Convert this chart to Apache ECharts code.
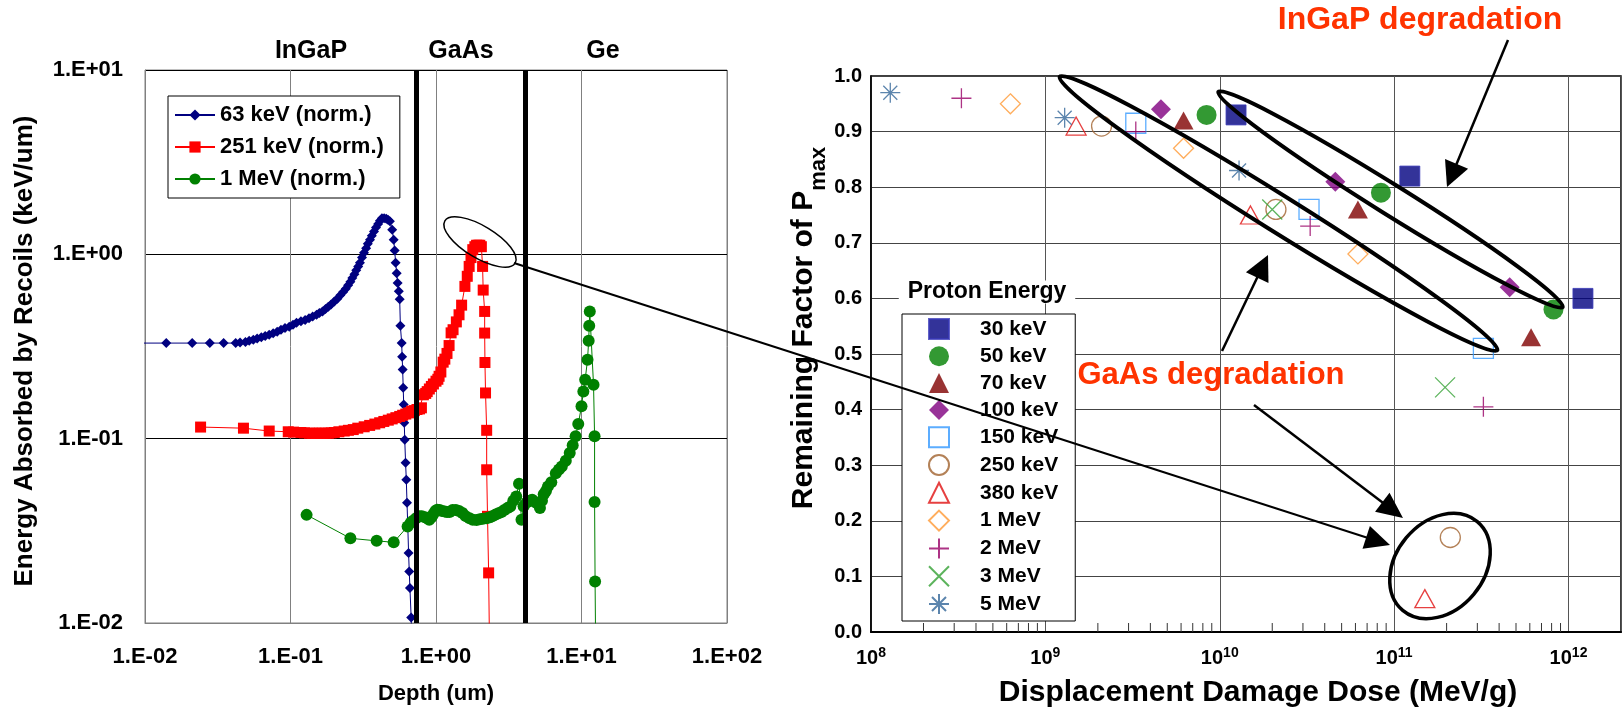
<!DOCTYPE html>
<html><head><meta charset="utf-8">
<script src="https://cdn.jsdelivr.net/npm/echarts@6/dist/echarts.min.js"></script>
<style>html,body{margin:0;padding:0;background:#fff}#c{width:1624px;height:710px}</style>
</head><body><div id="c"></div>
<script>
const F = '"Liberation Sans", Arial, Helvetica, sans-serif';

// ---------- Left chart: energy absorbed by recoils vs depth ----------
const legendLeft = ['63 keV (norm.)', '251 keV (norm.)', '1 MeV (norm.)'];
const recoil63keV = [[0.009,0.33],[0.014,0.33],[0.0211,0.33],[0.0279,0.33],[0.0347,0.33],[0.042,0.33],[0.045,0.332],[0.049,0.335],[0.052,0.34],[0.0555,0.344],[0.059,0.35],[0.063,0.355],[0.067,0.36],[0.0714,0.366],[0.076,0.373],[0.081,0.38],[0.086,0.39],[0.0917,0.398],[0.098,0.405],[0.104,0.415],[0.11,0.425],[0.118,0.433],[0.126,0.44],[0.134,0.45],[0.142,0.46],[0.151,0.47],[0.158,0.48],[0.166,0.49],[0.174,0.505],[0.182,0.52],[0.19,0.535],[0.2,0.555],[0.21,0.575],[0.22,0.60],[0.23,0.625],[0.24,0.65],[0.249,0.68],[0.258,0.71],[0.266,0.745],[0.275,0.78],[0.283,0.82],[0.292,0.86],[0.3,0.9],[0.31,0.96],[0.32,1.02],[0.331,1.08],[0.34,1.14],[0.352,1.2],[0.362,1.26],[0.375,1.33],[0.387,1.4],[0.4,1.46],[0.412,1.52],[0.425,1.57],[0.44,1.57],[0.455,1.56],[0.468,1.54],[0.482,1.51],[0.5,1.36],[0.512,1.2],[0.52,1.05],[0.528,0.9],[0.537,0.79],[0.545,0.7],[0.555,0.63],[0.563,0.57],[0.569,0.41],[0.581,0.33],[0.585,0.278],[0.59,0.237],[0.595,0.189],[0.6,0.153],[0.605,0.122],[0.61,0.0986],[0.618,0.074],[0.625,0.0598],[0.632,0.0449],[0.64,0.0333],[0.648,0.024],[0.655,0.019],[0.662,0.0155],[0.675,0.0107],[0.68,0.008]];
const recoil251keV = [[0.0241,0.1156],[0.0475,0.114],[0.0714,0.110],[0.0965,0.109],[0.105,0.1085],[0.118,0.108],[0.125,0.1075],[0.135,0.107],[0.142,0.107],[0.15,0.107],[0.158,0.107],[0.165,0.107],[0.173,0.107],[0.182,0.107],[0.19,0.1075],[0.2,0.108],[0.215,0.109],[0.234,0.11],[0.25,0.111],[0.27,0.112],[0.29,0.114],[0.321,0.116],[0.35,0.118],[0.38,0.12],[0.41,0.122],[0.438,0.124],[0.47,0.126],[0.5,0.128],[0.53,0.13],[0.563,0.132],[0.59,0.134],[0.62,0.136],[0.65,0.138],[0.679,0.141],[0.71,0.142],[0.74,0.144],[0.77,0.145],[0.794,0.147],[0.819,0.173],[0.85,0.176],[0.87,0.18],[0.9,0.186],[0.929,0.192],[0.96,0.198],[1.0,0.205],[1.03,0.21],[1.05,0.218],[1.08,0.23],[1.12,0.26],[1.15,0.27],[1.19,0.29],[1.23,0.32],[1.27,0.375],[1.31,0.39],[1.38,0.43],[1.44,0.47],[1.5,0.53],[1.58,0.67],[1.64,0.76],[1.69,0.86],[1.74,0.96],[1.79,1.06],[1.85,1.1],[1.9,1.12],[1.95,1.12],[2.0,1.12],[2.05,1.1],[2.09,0.86],[2.11,0.64],[2.16,0.49],[2.16,0.374],[2.17,0.259],[2.19,0.177],[2.23,0.111],[2.23,0.0678],[2.26,0.0379],[2.3,0.0187],[2.33,0.008]];
const recoil1MeV = [[0.129,0.0386],[0.258,0.0288],[0.391,0.0279],[0.512,0.0274],[0.638,0.0334],[0.67,0.035],[0.7,0.036],[0.73,0.037],[0.769,0.0379],[0.8,0.038],[0.84,0.0375],[0.87,0.037],[0.899,0.0363],[0.93,0.0375],[0.96,0.039],[0.99,0.0405],[1.02,0.0411],[1.06,0.041],[1.1,0.0405],[1.15,0.0403],[1.19,0.040],[1.24,0.04],[1.3,0.041],[1.37,0.041],[1.44,0.0405],[1.52,0.0395],[1.6,0.038],[1.7,0.037],[1.79,0.0363],[1.9,0.0362],[2.0,0.0365],[2.1,0.0368],[2.23,0.037],[2.35,0.0375],[2.45,0.038],[2.57,0.0388],[2.69,0.0394],[2.82,0.040],[2.95,0.041],[3.1,0.042],[3.24,0.0429],[3.4,0.046],[3.56,0.0486],[3.72,0.0569],[3.87,0.0363],[4.0,0.043],[4.2,0.045],[4.4,0.046],[4.58,0.0466],[4.85,0.045],[5.18,0.042],[5.35,0.046],[5.5,0.05],[5.7,0.052],[5.88,0.0551],[6.2,0.058],[6.66,0.065],[7.0,0.068],[7.32,0.0707],[7.8,0.076],[8.3,0.0835],[8.7,0.092],[9.11,0.103],[9.5,0.12],[10.0,0.150],[10.3,0.18],[10.6,0.209],[11.0,0.268],[11.2,0.34],[11.3,0.41],[11.4,0.49],[12.1,0.196],[12.3,0.103],[12.3,0.0453],[12.4,0.0168],[12.5,0.008]];
const layerBoundaries = [0.73, 4.1];
const layerNames = ['InGaP', 'GaAs', 'Ge'];

// ---------- Right chart: remaining factor of Pmax vs displacement damage dose ----------
const protonEnergies = ['30 keV','50 keV','70 keV','100 keV','150 keV','250 keV','380 keV','1 MeV','2 MeV','3 MeV','5 MeV'];
const dose30keV  = [1.24e10, 1.23e11, 1.21e12];  const rf30keV  = [0.93, 0.82, 0.60];
const dose50keV  = [8.4e9, 8.4e10, 8.2e11];      const rf50keV  = [0.93, 0.79, 0.58];
const dose70keV  = [6.2e9, 6.2e10, 6.1e11];      const rf70keV  = [0.92, 0.76, 0.53];
const dose100keV = [4.6e9, 4.6e10, 4.6e11];      const rf100keV = [0.94, 0.81, 0.62];
const dose150keV = [3.3e9, 3.25e10, 3.25e11];    const rf150keV = [0.915, 0.76, 0.51];
const dose250keV = [2.1e9, 2.1e10, 2.1e11];      const rf250keV = [0.91, 0.76, 0.17];
const dose380keV = [1.5e9, 1.5e10, 1.5e11];      const rf380keV = [0.91, 0.75, 0.06];
const dose1MeV   = [6.3e8, 6.2e9, 6.2e10];       const rf1MeV   = [0.95, 0.87, 0.68];
const dose2MeV   = [3.3e8, 3.3e9, 3.3e10, 3.25e11]; const rf2MeV = [0.96, 0.90, 0.73, 0.405];
const dose3MeV   = [2.0e10, 1.96e11];            const rf3MeV   = [0.76, 0.44];
const dose5MeV   = [1.29e8, 1.29e9, 1.29e10];    const rf5MeV   = [0.97, 0.925, 0.83];
const doseList = [dose30keV,dose50keV,dose70keV,dose100keV,dose150keV,dose250keV,dose380keV,dose1MeV,dose2MeV,dose3MeV,dose5MeV];
const rfList   = [rf30keV,rf50keV,rf70keV,rf100keV,rf150keV,rf250keV,rf380keV,rf1MeV,rf2MeV,rf3MeV,rf5MeV];

// marker styles
const PLUS = 'path://M10,0L10,20M0,10L20,10';
const CROSS = 'path://M0,0L20,20M20,0L0,20';
const STAR = 'path://M10,0L10,20M0,10L20,10M3,3L17,17M17,3L3,17';
const mShape = ['rect','circle','triangle','diamond','rect','circle','triangle','diamond',PLUS,CROSS,STAR];
const mColor = ['#000080','#008000','#800000','#800080','#3399ff','#a0622d','#e01010','#ff9933','#990066','#33a033','#336699'];
const mFilled = [true,true,true,true,false,false,false,false,false,false,false];

const chart = echarts.init(document.getElementById('c'));

function expLabel(v){
  const e = Math.round(Math.log10(v));
  return '1.E' + (e < 0 ? '-' : '+') + String(Math.abs(e)).padStart(2,'0');
}
const lblL = {fontFamily:F, fontWeight:'bold', fontSize:22, color:'#000'};

const series = [
  {name:legendLeft[0], type:'line', xAxisIndex:0, yAxisIndex:0, data:recoil63keV, symbol:'diamond', symbolSize:10,
   itemStyle:{color:'#000080'}, lineStyle:{color:'#000080', width:1}},
  {name:legendLeft[1], type:'line', xAxisIndex:0, yAxisIndex:0, data:recoil251keV, symbol:'rect', symbolSize:11,
   itemStyle:{color:'#ff0000'}, lineStyle:{color:'#ff0000', width:1}},
  {name:legendLeft[2], type:'line', xAxisIndex:0, yAxisIndex:0, data:recoil1MeV, symbol:'circle', symbolSize:12,
   itemStyle:{color:'#008000'}, lineStyle:{color:'#008000', width:1},
   markLine:{silent:true, symbol:'none', label:{show:false}, lineStyle:{color:'#000', width:5, type:'solid'},
     data: layerBoundaries.map(b => ({xAxis:b}))}}
];
protonEnergies.forEach((name, i) => {
  const filled = mFilled[i];
  series.push({
    name, type:'scatter', xAxisIndex:1, yAxisIndex:1,
    data: doseList[i].map((d, j) => [d, rfList[i][j]]),
    symbol: mShape[i], symbolSize: mShape[i] === 'triangle' ? [20,18] : 20,
    itemStyle: filled ? {color:mColor[i], borderColor: i===0 ? '#3a3ab8' : mColor[i], borderWidth: i===0 ? 1 : 0}
                      : {color:'rgba(255,255,255,0)', borderColor:mColor[i], borderWidth:1.3},
    emphasis:{disabled:true}
  });
});

const option = {
  animation:false,
  backgroundColor:'#fff',
  grid:[
    {left:145, top:70, width:582, height:553, show:true, borderColor:'#808080', borderWidth:1},
    {left:871, top:76, width:752, height:556, show:true, borderColor:'#000', borderWidth:1.5}
  ],
  xAxis:[
    {type:'log', gridIndex:0, min:0.01, max:100, logBase:10,
     axisLine:{lineStyle:{color:'#808080'}}, axisTick:{show:false},
     splitLine:{show:true, lineStyle:{color:'#808080', width:1}},
     axisLabel:Object.assign({margin:23, formatter:expLabel}, lblL)},
    {type:'log', gridIndex:1, min:1e8, max:2e12, logBase:10,
     axisLine:{lineStyle:{color:'#000', width:2}}, axisTick:{show:false},
     splitLine:{show:true, lineStyle:{color:'#555', width:1}},
     axisLabel:{margin:14, color:'#000',
       formatter:(v)=>{const l=Math.log10(v), e=Math.round(l); if(Math.abs(l-e)>1e-6) return ''; return '{b|10}{s|'+e+'}';},
       rich:{b:{fontFamily:F, fontWeight:'bold', fontSize:20, color:'#000', lineHeight:22, verticalAlign:'bottom'},
             s:{fontFamily:F, fontWeight:'bold', fontSize:14, color:'#000', lineHeight:14, verticalAlign:'top'}}}}
  ],
  yAxis:[
    {type:'log', gridIndex:0, min:0.01, max:10, logBase:10,
     axisLine:{lineStyle:{color:'#808080'}}, axisTick:{show:false},
     splitLine:{show:true, lineStyle:{color:'#000', width:1}},
     axisLabel:Object.assign({margin:22, formatter:expLabel}, lblL)},
    {type:'value', gridIndex:1, min:0, max:1, interval:0.1,
     axisLine:{show:true, lineStyle:{color:'#000', width:1.5}}, axisTick:{show:false},
     splitLine:{show:true, lineStyle:{color:'#444', width:1}},
     axisLabel:{margin:9, formatter:(v)=>v.toFixed(1), fontFamily:F, fontWeight:'bold', fontSize:20, color:'#000', padding:[10,0,0,0]}}
  ],
  legend:[
    {data:legendLeft, orient:'vertical', left:168, top:96, itemWidth:40, itemHeight:14, itemGap:10,
     padding:[8,16,8,6], borderColor:'#000', borderWidth:1, backgroundColor:'#fff', selectedMode:false,
     textStyle:{fontFamily:F, fontWeight:'bold', fontSize:22, color:'#000', lineHeight:22}},
    {data:protonEnergies, orient:'vertical', left:902, top:314, itemWidth:20, itemHeight:20, itemGap:5.8,
     padding:[4,17,6,26], borderColor:'#000', borderWidth:1, backgroundColor:'#fff', selectedMode:false,
     textStyle:{fontFamily:F, fontWeight:'bold', fontSize:21, color:'#000', lineHeight:20, padding:[0,0,0,26]}}
  ],
  series
};
chart.setOption(option);

// ---------- annotations (decorations) ----------
function txt(x, y, text, size, color, extra){
  return {type:'text', x, y, z:100, style:Object.assign({text, font:'bold '+size+'px '+F, fill:color||'#000', align:'center', verticalAlign:'middle'}, (extra||{}))};
}
// angDeg > 0 : major axis tilted down to the right
function ell(cx, cy, rx, ry, angDeg, w){
  return {type:'ellipse', x:cx, y:cy, rotation:-angDeg*Math.PI/180, z:100, shape:{cx:0, cy:0, rx, ry}, style:{fill:'none', stroke:'#000', lineWidth:w}};
}
function arrow(x0, y0, x1, y1, w, hl, hw){
  const dx=x1-x0, dy=y1-y0, L=Math.hypot(dx,dy), ux=dx/L, uy=dy/L;
  const bx=x1-ux*hl, by=y1-uy*hl, px=-uy, py=ux;
  return [
    {type:'line', z:100, shape:{x1:x0, y1:y0, x2:bx+ux*2, y2:by+uy*2}, style:{stroke:'#000', lineWidth:w}},
    {type:'polygon', z:100, shape:{points:[[x1,y1],[bx+px*hw/2, by+py*hw/2],[bx-px*hw/2, by-py*hw/2]]}, style:{fill:'#000'}}
  ];
}
const g = [];
[[311,51],[461,51],[603,51]].forEach((p,i)=>g.push(txt(p[0], p[1], layerNames[i], 25)));
const yt = txt(25, 351, 'Energy Absorbed by Recoils (keV/um)', 26);
yt.rotation = Math.PI/2;
g.push(yt);
g.push(txt(436, 694, 'Depth (um)', 22));
g.push(txt(1258, 693, 'Displacement Damage Dose (MeV/g)', 30));
g.push({type:'text', x:804, y:328, rotation:Math.PI/2, z:100,
  style:{text:'{a|Remaining Factor of P}{b|max}', align:'center', verticalAlign:'middle',
    rich:{a:{font:'bold 30px '+F, fill:'#000', lineHeight:30, verticalAlign:'top'},
          b:{font:'bold 22px '+F, fill:'#000', lineHeight:22, verticalAlign:'top', padding:[19,0,0,0]}}}});
g.push(txt(987, 292, 'Proton Energy', 23, '#000', {backgroundColor:'#fff', padding:[0,9]}));
g.push(txt(1420, 20, 'InGaP degradation', 32, '#ff3300'));
g.push(txt(1211, 375, 'GaAs degradation', 31, '#ff3300'));
g.push(ell(480, 242, 41, 16, 31, 1.5));
g.push(ell(1278.5, 213.5, 258, 18, 32, 4));
g.push(ell(1390.5, 199.5, 203, 15, 32, 4));
g.push(ell(1440, 566, 58, 44, -50, 3.5));
g.push(...arrow(514, 263, 1390, 545, 2, 25, 24));
g.push(...arrow(1508, 40, 1447, 187, 2.5, 25, 25));
g.push(...arrow(1222, 351, 1268, 255, 2.5, 25, 25));
g.push(...arrow(1254, 405, 1403, 518, 2.5, 26, 24));
// minor ticks on the dose axis (2..9 x each decade)
for (let n = 8; n <= 11; n++) {
  for (let k = 2; k <= 9; k++) {
    const p = chart.convertToPixel({gridIndex:1}, [k*Math.pow(10,n), 0]);
    g.push({type:'line', z:50, shape:{x1:p[0], y1:p[1], x2:p[0], y2:p[1]-9}, style:{stroke:'#333', lineWidth:1}});
  }
}
chart.setOption({graphic:g});
</script>
</body></html>
